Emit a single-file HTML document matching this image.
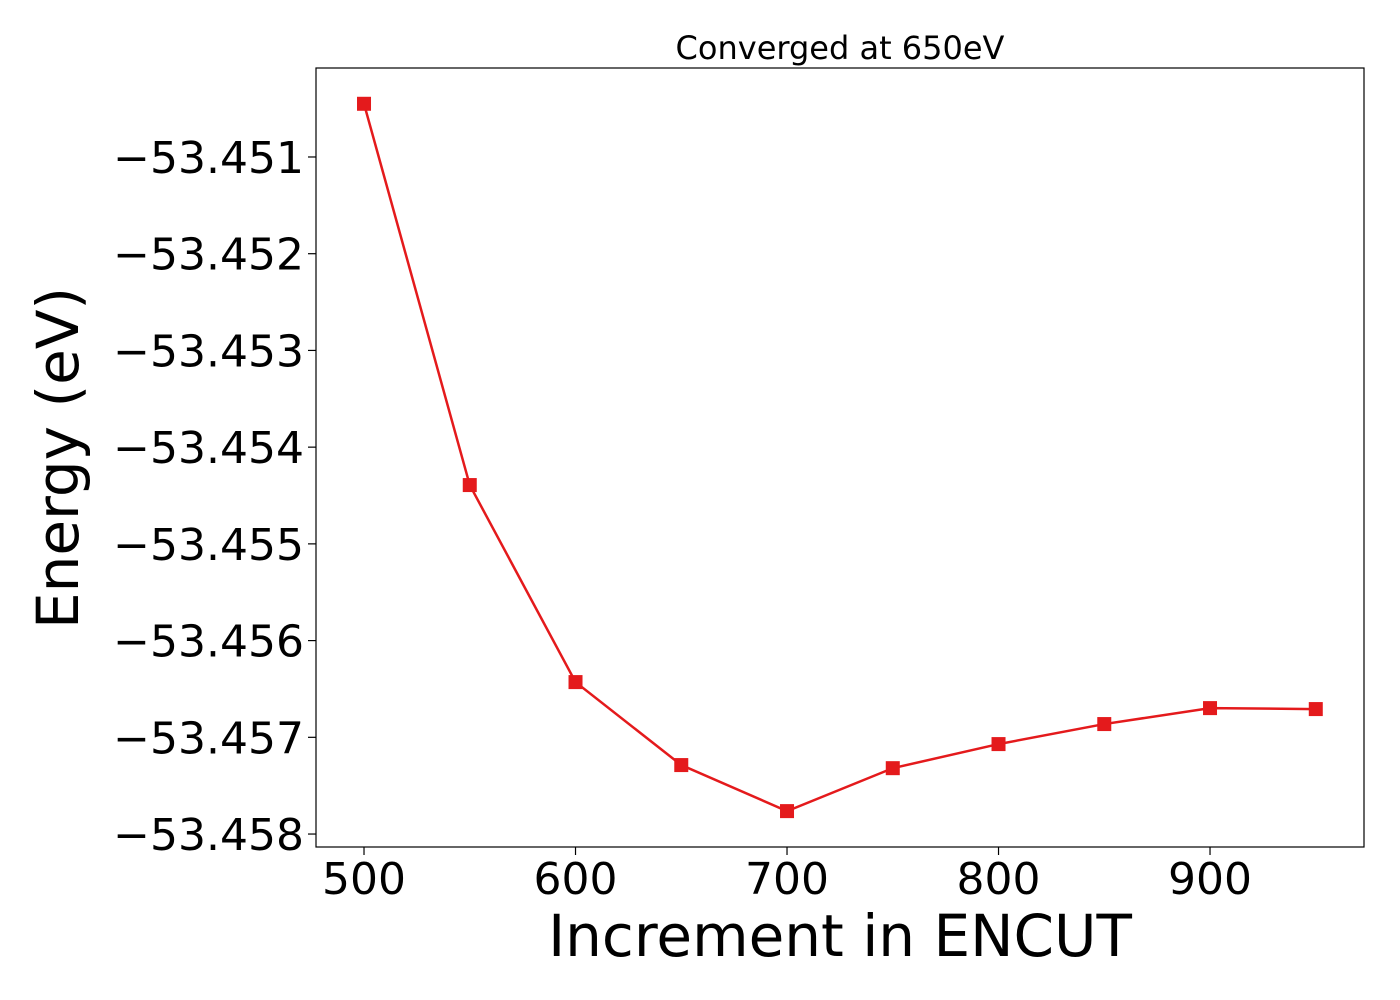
<!DOCTYPE html>
<html><head><meta charset="utf-8">
<style>
html,body{margin:0;padding:0;background:#fff;}
svg{display:block;font-family:"DejaVu Sans","Liberation Sans",sans-serif;}
</style></head>
<body>
<svg id="chart" width="1400" height="1000" viewBox="0 0 1400 1000">
<rect x="0" y="0" width="1400" height="1000" fill="#fff"/>
<text x="840" y="59" font-size="32" text-anchor="middle">Converged at 650eV</text>
<g id="plot"></g>
<rect x="316" y="68" width="1048" height="779" fill="none" stroke="#000" stroke-width="1.2"/>
<text x="840" y="956" font-size="58" text-anchor="middle">Increment in ENCUT</text>
<text transform="translate(78,458) rotate(-90)" font-size="58" text-anchor="middle">Energy (eV)</text>
</svg>
<script>
const xValues = [500, 550, 600, 650, 700, 750, 800, 850, 900, 950];
const energyValues = [-53.45045, -53.454392, -53.456429, -53.457287, -53.457763, -53.457319, -53.45707, -53.456863, -53.456698, -53.456708];
const xTicks = [500, 600, 700, 800, 900];
const yTicks = [-53.451, -53.452, -53.453, -53.454, -53.455, -53.456, -53.457, -53.458];
const yTickLabels = ["\u221253.451","\u221253.452","\u221253.453","\u221253.454","\u221253.455","\u221253.456","\u221253.457","\u221253.458"];

const L=316,R=1364,T=68,B=847;
const xMin=477.3,xMax=972.8,yMin=-53.458134,yMax=-53.45008;
const sx=v=>L+(v-xMin)/(xMax-xMin)*(R-L);
const sy=v=>B-(v-yMin)/(yMax-yMin)*(B-T);
const NS="http://www.w3.org/2000/svg";
const g=document.getElementById('plot');
function mk(t,a){const e=document.createElementNS(NS,t);for(const k in a)e.setAttribute(k,a[k]);g.appendChild(e);return e;}

xTicks.forEach(v=>{
  const l=mk('line',{x1:sx(v),x2:sx(v),y1:B,y2:B+8,stroke:'#000','stroke-width':1.2});
  
  
  const t=mk('text',{x:sx(v),y:B+47,'font-size':44,'text-anchor':'middle'});
  t.textContent=v;
  
  
});
yTicks.forEach((v,i)=>{
  const l=mk('line',{x1:L-8,x2:L,y1:sy(v),y2:sy(v),stroke:'#000','stroke-width':1.2});
  
  
  const t=mk('text',{x:L-12,y:sy(v)+16,'font-size':44,'text-anchor':'end'});
  t.textContent=yTickLabels[i];
  
  
});
const pts=xValues.map((x,i)=>sx(x)+','+sy(energyValues[i])).join(' ');
const line=mk('polyline',{points:pts,fill:'none',stroke:'#e41a1c','stroke-width':2.5});


xValues.forEach((x,i)=>{
  const m=mk('rect',{x:sx(x)-7,y:sy(energyValues[i])-7,width:14,height:14,fill:'#e41a1c'});
  
  
});
</script>
</body></html>
